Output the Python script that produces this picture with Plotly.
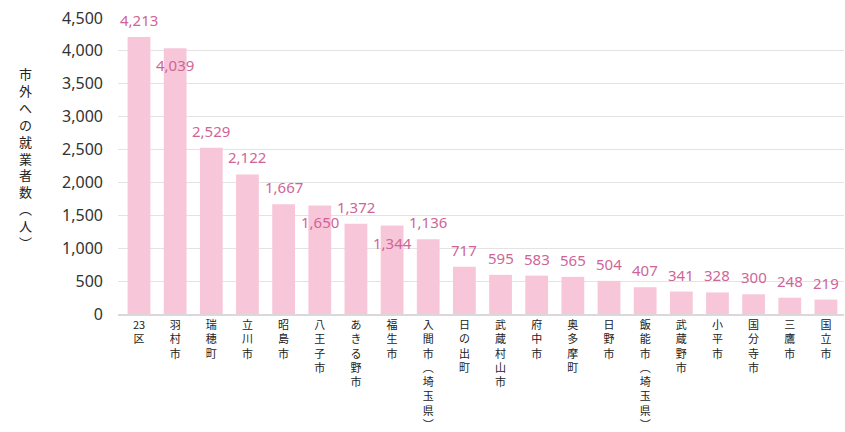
import plotly.graph_objects as go

categories = ["23区", "羽村市", "瑞穂町", "立川市", "昭島市", "八王子市", "あきる野市", "福生市",
              "入間市(埼玉県)", "日の出町", "武蔵村山市", "府中市", "奥多摩町", "日野市",
              "飯能市(埼玉県)", "武蔵野市", "小平市", "国分寺市", "三鷹市", "国立市"]
values = [4213, 4039, 2529, 2122, 1667, 1650, 1372, 1344, 1136, 717,
          595, 583, 565, 504, 407, 341, 328, 300, 248, 219]
y_tick_values = [0, 500, 1000, 1500, 2000, 2500, 3000, 3500, 4000, 4500]
y_title = "市外への就業者数(人)"

BAR_COLOR = "#f8c6d9"
LABEL_COLOR = "#cf6597"
NUM_FONT = "Noto Sans, DejaVu Sans, sans-serif"
JP_FONT = "Noto Sans CJK JP, sans-serif"

W, H = 845, 432
ML, MR, MT, MB = 118, 1, 18, 118
YMAX = 4500


def vertical(s):
    s = s.replace("(", "︵").replace(")", "︶")
    if s.startswith("23"):
        return "23<br>" + "<br>".join(list(s[2:]))
    return "<br>".join(list(s))


fig = go.Figure()
fig.add_trace(go.Bar(
    x=categories, y=values, marker_color=BAR_COLOR, marker_line_width=0,
    hoverinfo="x+y",
))

# data labels with simple collision avoidance (above the bar, or tucked below its top)
plot_h = H - MT - MB
plot_w = W - ML - MR
step = plot_w / len(categories)
OFF = 17
prev = None
for i, (c, v) in enumerate(zip(categories, values)):
    txt = f"{v:,}"
    w = len(txt) * 9.5
    ypix = MT + plot_h * (1 - v / YMAX)
    shift = OFF
    if prev is not None:
        pw, py = prev
        if (pw + w) / 2 > step and abs((ypix - OFF) - py) < 15:
            shift = -OFF
    prev = (w, ypix - shift)
    fig.add_annotation(x=c, y=v, text=txt, showarrow=False, yshift=shift,
                       xanchor="center", yanchor="middle",
                       font=dict(family=NUM_FONT, size=15, color=LABEL_COLOR))

fig.add_annotation(
    xref="paper", yref="paper", x=(25 - ML) / plot_w, y=(H - MB - 158) / plot_h,
    text=vertical(y_title), showarrow=False, xanchor="center", yanchor="middle",
    font=dict(family=JP_FONT, size=13, color="#222222"),
)

fig.update_layout(
    width=W, height=H,
    margin=dict(l=ML, r=MR, t=MT, b=MB, pad=0, autoexpand=False),
    paper_bgcolor="white", plot_bgcolor="white",
    bargap=0.37, showlegend=False,
    xaxis=dict(
        tickmode="array", tickvals=categories, ticktext=[vertical(c) for c in categories],
        tickfont=dict(family=JP_FONT, size=11, color="#222222"),
        tickangle=0, showgrid=False, showline=True, linecolor="#d9d9d9", linewidth=1.5,
        ticks="", ticklabelstandoff=0, automargin=False,
    ),
    yaxis=dict(
        range=[0, YMAX], tickmode="array", tickvals=y_tick_values,
        ticktext=[f"{t:,}" for t in y_tick_values],
        tickfont=dict(family=NUM_FONT, size=16, color="#333333"),
        showgrid=True, gridcolor="#e3e3e3", gridwidth=1, zeroline=False,
        ticks="", ticklabelstandoff=14, automargin=False,
    ),
)

fig.write_html("out.html")
